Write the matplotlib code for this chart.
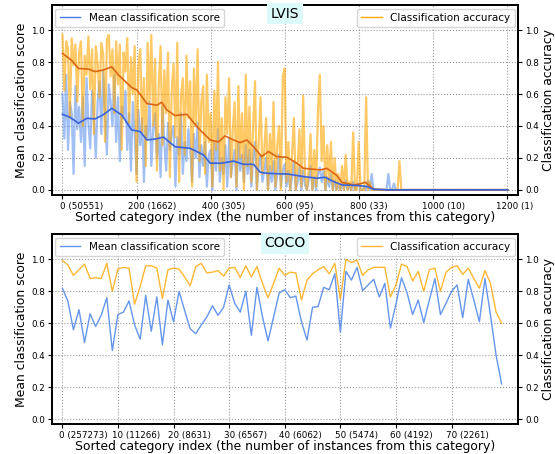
# -*- coding: utf-8 -*-
import numpy as np
import matplotlib
matplotlib.use("Agg")
import matplotlib.pyplot as plt
from matplotlib.font_manager import FontProperties
from matplotlib.transforms import ScaledTranslation

# ---- LVIS: raw per-category values, every 5th sorted category (0..920), rest is 0
lvis_step = 5
lvis_acc = [
    0.97, 0.62, 0.93, 0.88, 0.45, 0.95, 0.78, 0.91, 0.55, 0.86,
    0.93, 0.40, 0.84, 0.72, 0.96, 0.63, 0.88, 0.35, 0.90, 0.79,
    0.58, 0.92, 0.85, 0.30, 0.94, 0.97, 0.71, 0.88, 0.48, 0.93,
    0.66, 0.91, 0.25, 0.86, 0.74, 0.95, 0.42, 0.83, 0.60, 0.90,
    0.05, 0.78, 0.88, 0.36, 0.70, 0.15, 0.92, 0.55, 0.97, 0.40,
    0.82, 0.12, 0.66, 0.90, 0.28, 0.75, 0.48, 0.86, 0.08, 0.62,
    0.79, 0.33, 0.92, 0.05, 0.58, 0.70, 0.22, 0.84, 0.45, 0.68,
    0.02, 0.76, 0.40, 0.88, 0.18, 0.55, 0.65, 0.10, 0.72, 0.30,
    0.48, 0.02, 0.62, 0.25, 0.80, 0.12, 0.45, 0.00, 0.58, 0.35,
    0.70, 0.08, 0.38, 0.55, 0.02, 0.65, 0.20, 0.48, 0.00, 0.72,
    0.15, 0.52, 0.05, 0.40, 0.68, 0.00, 0.30, 0.58, 0.10, 0.25,
    0.45, 0.00, 0.35, 0.12, 0.55, 0.02, 0.28, 0.40, 0.00, 0.71,
    0.76, 0.05, 0.30, 0.00, 0.22, 0.45, 0.00, 0.15, 0.38, 0.02,
    0.59, 0.10, 0.00, 0.12, 0.35, 0.00, 0.25, 0.02, 0.50, 0.72,
    0.18, 0.40, 0.00, 0.28, 0.05, 0.30, 0.00, 0.20, 0.00, 0.10,
    0.00, 0.15, 0.00, 0.22, 0.00, 0.05, 0.00, 0.36, 0.00, 0.00,
    0.30, 0.00, 0.00, 0.00, 0.58, 0.00, 0.05, 0.00, 0.00, 0.00,
    0.00, 0.00, 0.00, 0.00, 0.00, 0.00, 0.00, 0.00, 0.00, 0.00,
    0.00, 0.00, 0.18, 0.00, 0.00,
]
lvis_score = [
    0.60, 0.32, 0.72, 0.25, 0.55, 0.48, 0.10, 0.65, 0.38, 0.52,
    0.30, 0.58, 0.15, 0.70, 0.42, 0.26, 0.62, 0.45, 0.20, 0.55,
    0.68, 0.35, 0.74, 0.48, 0.22, 0.66, 0.55, 0.40, 0.72, 0.30,
    0.58, 0.18, 0.52, 0.45, 0.62, 0.25, 0.48, 0.12, 0.55, 0.35,
    0.10, 0.50, 0.28, 0.45, 0.05, 0.40, 0.32, 0.55, 0.15, 0.38,
    0.48, 0.20, 0.35, 0.08, 0.52, 0.30, 0.12, 0.42, 0.25, 0.36,
    0.40, 0.02, 0.33, 0.22, 0.48, 0.10, 0.30, 0.18, 0.38, 0.25,
    0.05, 0.35, 0.20, 0.42, 0.08, 0.28, 0.15, 0.30, 0.02, 0.22,
    0.25, 0.00, 0.30, 0.12, 0.38, 0.05, 0.20, 0.10, 0.28, 0.02,
    0.32, 0.08, 0.18, 0.25, 0.00, 0.30, 0.12, 0.22, 0.05, 0.28,
    0.10, 0.25, 0.02, 0.20, 0.30, 0.00, 0.15, 0.22, 0.05, 0.12,
    0.20, 0.00, 0.15, 0.05, 0.18, 0.00, 0.10, 0.22, 0.02, 0.12,
    0.16, 0.02, 0.12, 0.00, 0.08, 0.18, 0.00, 0.05, 0.14, 0.00,
    0.12, 0.03, 0.00, 0.06, 0.15, 0.00, 0.08, 0.00, 0.10, 0.14,
    0.05, 0.12, 0.00, 0.08, 0.02, 0.10, 0.00, 0.06, 0.00, 0.03,
    0.00, 0.04, 0.00, 0.06, 0.00, 0.02, 0.00, 0.05, 0.00, 0.03,
    0.04, 0.00, 0.00, 0.02, 0.00, 0.06, 0.00, 0.10, 0.00, 0.00,
    0.00, 0.00, 0.00, 0.00, 0.00, 0.00, 0.10, 0.00, 0.00, 0.04,
    0.00, 0.00, 0.00, 0.00, 0.00,
]
lvis_last = 1202  # last category index (flat zero after the data above)

# smoothed trends
score_sm_x = [0, 20, 43, 66, 88, 110, 133, 160, 187, 210, 228, 250, 273, 304,
              345, 381, 399, 430, 462, 489, 516, 534, 552, 588, 606, 651, 687,
              709, 732, 755, 800, 822, 840, 880, 1202]
score_sm = [0.473, 0.455, 0.417, 0.448, 0.444, 0.47, 0.51, 0.469, 0.375, 0.365,
            0.3125, 0.318, 0.33, 0.27, 0.26, 0.219, 0.167, 0.167, 0.18, 0.16,
            0.16, 0.11, 0.104, 0.10, 0.10, 0.083, 0.073, 0.079, 0.052, 0.031,
            0.027, 0.021, 0.004, 0.0, 0.0]
acc_sm_x = [0, 25, 43, 70, 88, 110, 133, 151, 187, 201, 228, 255, 268, 282, 304,
            336, 363, 376, 399, 421, 439, 462, 480, 498, 516, 538, 556, 579, 606,
            633, 651, 678, 696, 714, 741, 755, 786, 800, 818, 840, 880, 1202]
acc_sm = [0.854, 0.81, 0.76, 0.756, 0.74, 0.75, 0.77, 0.72, 0.64, 0.625, 0.54,
          0.53, 0.548, 0.50, 0.465, 0.473, 0.396, 0.365, 0.3125, 0.30, 0.3375,
          0.3125, 0.296, 0.3125, 0.27, 0.208, 0.24, 0.208, 0.204, 0.167, 0.135,
          0.129, 0.125, 0.135, 0.09, 0.046, 0.031, 0.035, 0.048, 0.004, 0.0, 0.0]
lvis_ticks = [0, 200, 400, 600, 800, 1000, 1200]
lvis_counts = [50551, 1662, 305, 95, 33, 10, 1]

# ---- COCO: 80 categories
coco_score = [
    0.82, 0.74, 0.56, 0.685, 0.48, 0.66, 0.58, 0.65, 0.76, 0.43,
    0.655, 0.67, 0.74, 0.59, 0.50, 0.775, 0.55, 0.765, 0.465, 0.745,
    0.61, 0.80, 0.68, 0.565, 0.535, 0.59, 0.64, 0.71, 0.65, 0.70,
    0.84, 0.725, 0.67, 0.80, 0.525, 0.825, 0.64, 0.49, 0.64, 0.79,
    0.81, 0.76, 0.77, 0.61, 0.495, 0.70, 0.705, 0.825, 0.81, 0.91,
    0.545, 0.925, 0.87, 0.95, 0.805, 0.84, 0.875, 0.765, 0.85, 0.57,
    0.72, 0.885, 0.79, 0.655, 0.745, 0.605, 0.745, 0.88, 0.655, 0.725,
    0.80, 0.84, 0.635, 0.875, 0.745, 0.61, 0.88, 0.65, 0.40, 0.22,
]
coco_acc = [
    0.995, 0.965, 0.90, 0.935, 0.97, 0.88, 0.885, 0.88, 0.975, 0.80,
    0.94, 0.95, 0.945, 0.72, 0.83, 0.96, 0.96, 0.945, 0.755, 0.935,
    0.945, 0.94, 0.89, 0.835, 0.955, 0.975, 0.915, 0.92, 0.93, 0.895,
    0.945, 0.95, 0.887, 0.96, 0.89, 0.955, 0.85, 0.76, 0.85, 0.945,
    0.90, 0.92, 0.915, 0.745, 0.87, 0.91, 0.935, 0.955, 0.91, 0.975,
    0.75, 1.0, 0.98, 0.995, 0.90, 0.935, 0.95, 0.95, 0.95, 0.765,
    0.84, 0.97, 0.955, 0.865, 0.925, 0.80, 0.935, 0.945, 0.80, 0.92,
    0.95, 0.96, 0.905, 0.945, 0.88, 0.82, 0.93, 0.85, 0.67, 0.60,
]
coco_ticks = [0, 10, 20, 30, 40, 50, 60, 70]
coco_counts = [257273, 11266, 8631, 6567, 6062, 5474, 4192, 2261]

yticks = [0.0, 0.2, 0.4, 0.6, 0.8, 1.0]
xlabel = 'Sorted category index (the number of instances from this category)'

BLUE = '#6495ed'
ORANGE = '#ffa500'
BLUE_DARK = '#3a63d8'
ORANGE_DARK = '#dc6512'
TICK_FS = 6.3
LABEL_FS = 8.9


def style_axes(ax, ax2, ticks, counts, xlim):
    ax.set_xlim(*xlim)
    ax.set_ylim(-0.032, 1.157)
    ax2.set_ylim(-0.032, 1.157)
    ax.set_xticks(ticks)
    ax.set_xticklabels(['%d (%d)' % (t, c) for t, c in zip(ticks, counts)],
                       fontsize=TICK_FS)
    ax.set_yticks(yticks)
    ax.set_yticklabels(['%.1f' % v for v in yticks], fontsize=TICK_FS)
    ax2.set_yticks(yticks)
    ax2.set_yticklabels(['%.1f' % v for v in yticks], fontsize=TICK_FS)
    ax.tick_params(length=3, width=0.8, pad=2)
    ax2.tick_params(length=3, width=0.8, pad=2)
    ax.grid(True, linestyle=':', color='#999999', linewidth=0.8)
    ax.set_xlabel(xlabel, fontsize=LABEL_FS, labelpad=0)
    ax.set_ylabel('Mean classification score', fontsize=LABEL_FS, labelpad=2)
    ax2.set_ylabel('Classification accuracy', fontsize=LABEL_FS, labelpad=2)
    for a in (ax, ax2):
        for s in a.spines.values():
            s.set_linewidth(1.3)


def center_number_on_tick(fig, ax, ticks):
    # the index part of each label sits centred under its tick
    renderer = fig.canvas.get_renderer()
    fp = FontProperties(size=TICK_FS)
    for lbl, t in zip(ax.get_xticklabels(), ticks):
        w, _, _ = renderer.get_text_width_height_descent(str(t), fp, ismath=False)
        lbl.set_horizontalalignment('left')
        lbl.set_transform(lbl.get_transform() +
                          ScaledTranslation(-w / 2.0 / fig.dpi, 0, fig.dpi_scale_trans))


def add_legends(ax2, h_score, h_acc, title):
    leg1 = ax2.legend(handles=[h_score], loc='upper left', fontsize=7.5,
                      borderaxespad=0.35, handlelength=2.0, framealpha=0.8)
    ax2.add_artist(leg1)
    ax2.legend(handles=[h_acc], loc='upper right', fontsize=7.5,
               borderaxespad=0.35, handlelength=2.0, framealpha=0.8)
    ax2.text(0.5, 0.99, title, transform=ax2.transAxes, ha='center', va='top',
             fontsize=10, zorder=10,
             bbox=dict(facecolor='#dcfafa', edgecolor='none', pad=2.5))


fig = plt.figure(figsize=(5.55, 4.54), dpi=100)

# ---------------- LVIS
ax = fig.add_axes([0.0932, 0.5705, 0.8407, 0.4185])
ax2 = ax.twinx()
n = len(lvis_score)
lx = list(np.arange(n) * lvis_step) + [lvis_last]
ls = list(lvis_score) + [0.0]
la = list(lvis_acc) + [0.0]
ax.plot(lx, ls, color=BLUE, alpha=0.6, linewidth=1.6)
ax2.plot(lx, la, color=ORANGE, alpha=0.6, linewidth=1.6)
ax2.plot(acc_sm_x, acc_sm, color=ORANGE_DARK, linewidth=1.2)
ax2.plot(score_sm_x, score_sm, color=BLUE_DARK, linewidth=1.2)
style_axes(ax, ax2, lvis_ticks, lvis_counts, (-29, 1231))
h1, = ax.plot([], [], color='#4a78e0', linewidth=1.0, label='Mean classification score')
h2, = ax.plot([], [], color=ORANGE, linewidth=1.0, label='Classification accuracy')
add_legends(ax2, h1, h2, 'LVIS')

# ---------------- COCO
bx = fig.add_axes([0.0932, 0.0654, 0.8407, 0.4186])
bx2 = bx.twinx()
cx = np.arange(len(coco_score))
bx.plot(cx, coco_score, color=BLUE, linewidth=1.0)
bx2.plot(cx, coco_acc, color=ORANGE, alpha=0.8, linewidth=1.0)
style_axes(bx, bx2, coco_ticks, coco_counts, (-1.9, 82.0))
g1, = bx.plot([], [], color=BLUE, linewidth=1.0, label='Mean classification score')
g2, = bx.plot([], [], color=ORANGE, alpha=0.8, linewidth=1.0, label='Classification accuracy')
add_legends(bx2, g1, g2, 'COCO')

center_number_on_tick(fig, ax, lvis_ticks)
center_number_on_tick(fig, bx, coco_ticks)

fig.savefig('out.png', dpi=100)
